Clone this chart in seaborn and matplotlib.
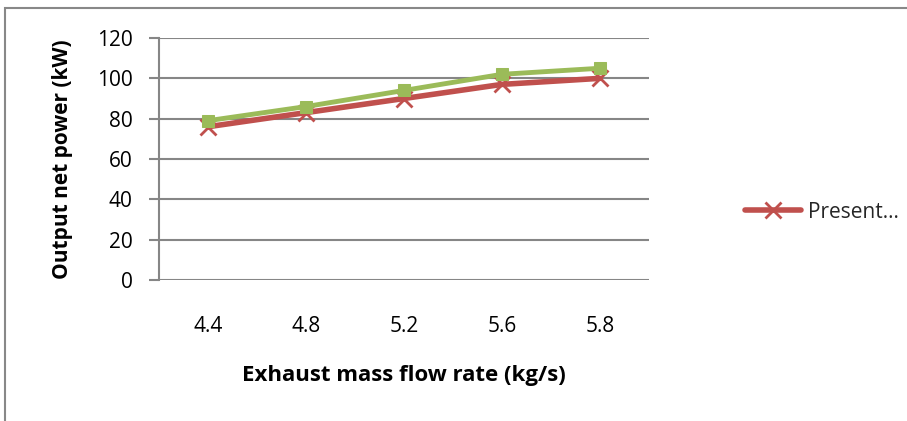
import matplotlib
matplotlib.use("Agg")
import matplotlib.pyplot as plt
import seaborn as sns
import pandas as pd
from matplotlib.patches import Rectangle
from matplotlib.lines import Line2D

categories = ["4.4", "4.8", "5.2", "5.6", "5.8"]
present = [76, 83, 90, 97, 100]
other = [79, 86, 94, 102, 105]
yticks = [0, 20, 40, 60, 80, 100, 120]

sns.set_theme(style="white")
FAM = ["Open Sans", "DejaVu Sans"]
plt.rcParams["font.family"] = FAM

RED = "#C0504D"
GREEN = "#9BBB59"
GRID = "#868686"

fig = plt.figure(figsize=(9.07, 4.21), dpi=100)
ax = fig.add_axes([159/907, 1-280/421, (649-159)/907, (280-38)/421])

df = pd.DataFrame({"x": categories * 2,
                   "y": present + other,
                   "s": ["Present"] * 5 + ["Other"] * 5})

sns.lineplot(data=df[df.s == "Present"], x="x", y="y", ax=ax, color=RED,
             lw=4, marker="x", markersize=11, markeredgewidth=2,
             markeredgecolor=RED, sort=False, legend=False, zorder=3)
sns.lineplot(data=df[df.s == "Other"], x="x", y="y", ax=ax, color=GREEN,
             lw=3.5, marker="s", markersize=9, markeredgecolor=GREEN,
             sort=False, legend=False, zorder=4)

ax.set_xlim(-0.5, 4.5)
ax.set_ylim(0, 120)
ax.set_yticks(yticks)
ax.yaxis.grid(True, color=GRID, lw=1.5)
ax.set_axisbelow(True)
for s in ["top", "right", "bottom"]:
    ax.spines[s].set_visible(False)
ax.spines["left"].set_color(GRID)
ax.spines["left"].set_linewidth(1.5)
ax.tick_params(axis="y", which="major", left=True, length=7, width=1.5,
               color=GRID, labelsize=15, pad=12, labelcolor="black")
ax.tick_params(axis="x", bottom=False, labelsize=15, pad=20, labelcolor="black")
ax.set_xlabel("Exhaust mass flow rate (kg/s)", fontsize=16, fontweight="bold",
              labelpad=20, color="black")
ax.set_ylabel("Output net power (kW)", fontsize=15, fontweight="bold",
              labelpad=17, color="black")

handle = Line2D([], [], color=RED, lw=4, marker="x", markersize=11,
                markeredgewidth=2)
fig.legend([handle], ["Present…"], loc="center left",
           bbox_to_anchor=(745/907, 1-212/421), frameon=False,
           fontsize=15, handlelength=2.7, handletextpad=0.3, borderaxespad=0,
           borderpad=0)

fig.patches.append(Rectangle((5/907, -0.1), 1.2, 1-8/421+0.1,
                             transform=fig.transFigure, fill=False,
                             edgecolor="#888888", lw=1.5))

fig.savefig("out.png", dpi=100)
